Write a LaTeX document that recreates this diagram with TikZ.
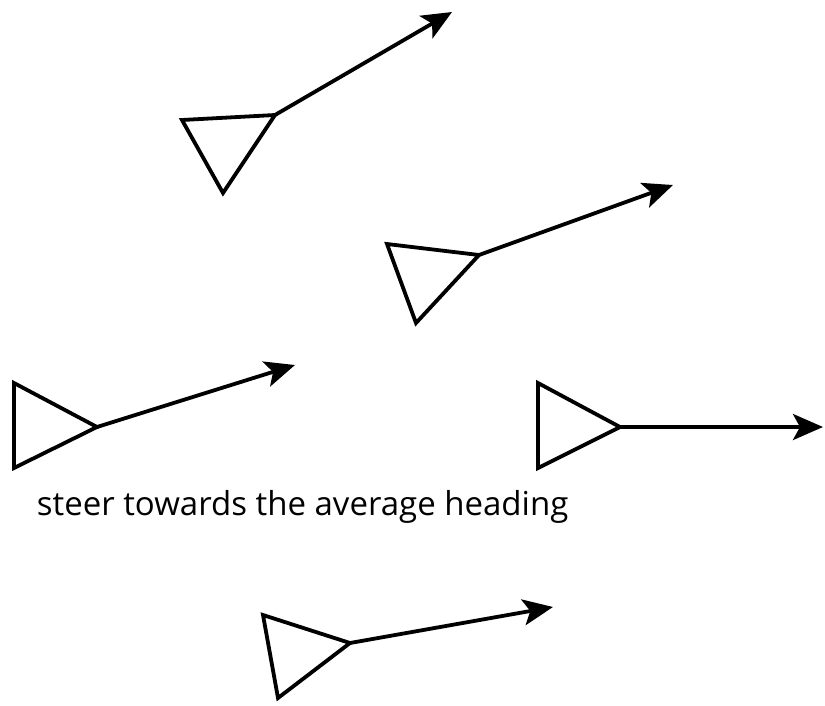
\documentclass[tikz,border=0pt]{standalone}
\usepackage{fontspec}
\setmainfont{Open Sans}
\usetikzlibrary{arrows.meta}

\begin{document}
\begin{tikzpicture}[>={Stealth[length=30pt,width=26pt,inset=7pt]}, x=1pt, y=-1pt, line width=3.8pt]
  \useasboundingbox (0,0) rectangle (825,705);
  \coordinate (a)  at (275,115);
  \coordinate (a1) at (182,120);
  \coordinate (a2) at (223,193);
  \coordinate (ah) at (452,12);
  \coordinate (b)  at (479,255);
  \coordinate (b1) at (387,244);
  \coordinate (b2) at (416,323);
  \coordinate (bh) at (673,185);
  \coordinate (c)  at (97,427);
  \coordinate (c1) at (14,383);
  \coordinate (c2) at (14,468);
  \coordinate (ch) at (295,365);
  \coordinate (d)  at (620,427);
  \coordinate (d1) at (538,383);
  \coordinate (d2) at (538,468);
  \coordinate (dh) at (823,427);
  \coordinate (e)  at (350,643);
  \coordinate (e1) at (263,615);
  \coordinate (e2) at (278,698);
  \coordinate (eh) at (553,607);
  \draw (a) -- (a1) -- (a2) -- cycle;
  \draw (b) -- (b1) -- (b2) -- cycle;
  \draw (c) -- (c1) -- (c2) -- cycle;
  \draw (d) -- (d1) -- (d2) -- cycle;
  \draw (e) -- (e1) -- (e2) -- cycle;
  \draw[->] (a) -- (ah);
  \draw[->] (b) -- (bh);
  \draw[->] (c) -- (ch);
  \draw[->] (d) -- (dh);
  \draw[->] (e) -- (eh);
  \node[anchor=base west, inner sep=0pt, font=\fontsize{33}{40}\selectfont] (t) at (35,515) {steer towards the average heading};
\end{tikzpicture}
\end{document}
